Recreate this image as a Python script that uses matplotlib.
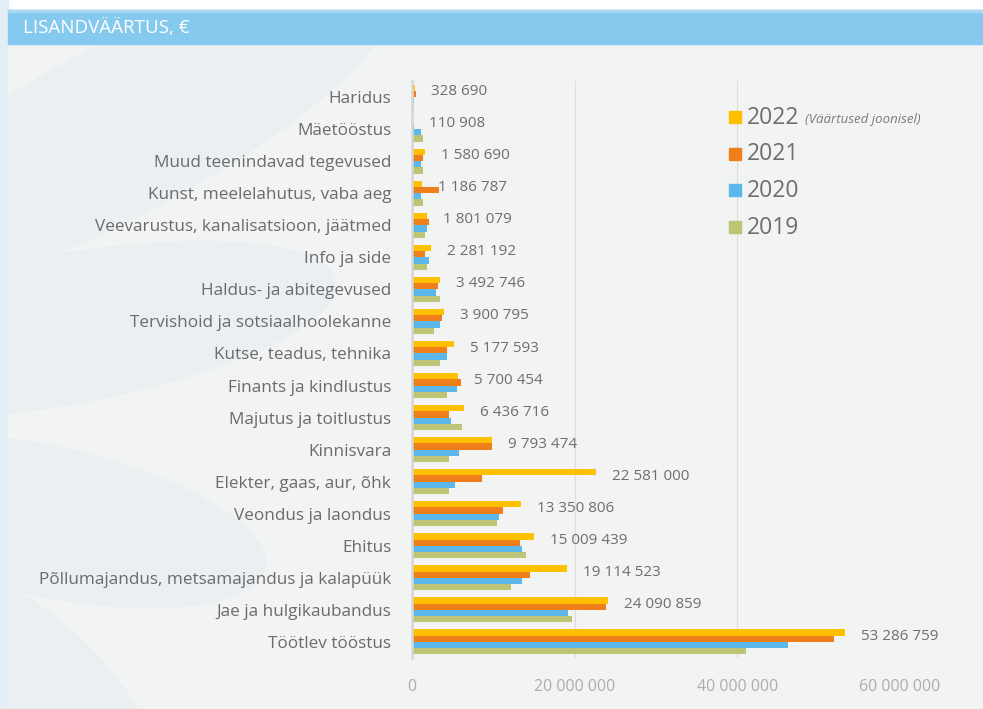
import matplotlib
matplotlib.use("Agg")
import matplotlib.pyplot as plt
import matplotlib.transforms as mtransforms
from matplotlib.patches import Rectangle, Ellipse
import numpy as np

plt.rcParams['font.family'] = ['Open Sans', 'DejaVu Sans']

# kategooriad ülevalt alla
categories = ["Haridus", "Mäetööstus", "Muud teenindavad tegevused",
              "Kunst, meelelahutus, vaba aeg",
              "Veevarustus, kanalisatsioon, jäätmed", "Info ja side",
              "Haldus- ja abitegevused", "Tervishoid ja sotsiaalhoolekanne",
              "Kutse, teadus, tehnika", "Finants ja kindlustus",
              "Majutus ja toitlustus", "Kinnisvara", "Elekter, gaas, aur, õhk",
              "Veondus ja laondus", "Ehitus",
              "Põllumajandus, metsamajandus ja kalapüük",
              "Jae ja hulgikaubandus", "Töötlev tööstus"]

v2022 = [328690, 110908, 1580690, 1186787, 1801079, 2281192, 3492746,
         3900795, 5177593, 5700454, 6436716, 9793474, 22581000, 13350806,
         15009439, 19114523, 24090859, 53286759]
v2021 = [550000, 200000, 1300000, 3370000, 2150000, 1650000, 3160000,
         3650000, 4270000, 5990000, 4500000, 9800000, 8600000, 11150000,
         13250000, 14500000, 23850000, 51930000]
v2020 = [300000, 1050000, 1050000, 1050000, 1800000, 2150000, 2900000,
         3400000, 4270000, 5500000, 4760000, 5750000, 5250000, 10670000,
         13500000, 13500000, 19150000, 46270000]
v2019 = [300000, 1300000, 1300000, 1300000, 1650000, 1800000, 3400000,
         2650000, 3400000, 4270000, 6200000, 4500000, 4500000, 10400000,
         14000000, 12150000, 19650000, 41090000]

years = ["2022", "2021", "2020", "2019"]
colors = ["#FFC000", "#EF7F1A", "#5CB8EA", "#BDC475"]
xticks = [0, 20000000, 40000000, 60000000]

W, H = 983, 709
fig = plt.figure(figsize=(W / 100, H / 100), dpi=100)
fig.patch.set_facecolor("white")
# pikslikoordinaadid (y ülevalt alla)
px = mtransforms.Affine2D().scale(1, -1).translate(0, H).scale(1 / W, 1 / H) + fig.transFigure

# taust ja dekoratsioon
fig.add_artist(Rectangle((0, 0), 8, H, transform=px, color="#E4EEF6", zorder=-10))
bg = Rectangle((8, 44), W - 8, H - 44, transform=px, color="#F2F3F3", zorder=-9)
fig.add_artist(bg)
for (cx, cy, w, h, a) in [(120, 130, 620, 170, -28), (60, 330, 560, 150, -10),
                          (40, 520, 460, 150, 12), (10, 690, 360, 170, 40)]:
    e = Ellipse((cx, cy), w, h, angle=a, transform=px, color="#EAEFF2", zorder=-8)
    fig.add_artist(e)
    e.set_clip_path(bg)

# päis
fig.add_artist(Rectangle((8, 10), W - 8, 34, transform=px, color="#86C9EE", zorder=-5))
fig.add_artist(Rectangle((8, 10), W - 8, 1.5, transform=px, color="#A8D8F3", zorder=-4))
fig.text(23 / W, 1 - 28 / H, "LISANDVÄÄRTUS, €", color="white", fontsize=13.5,
         fontweight="medium", va="center", ha="left")

ax = fig.add_axes([412 / W, 1 - 658 / H, (900 - 412) / W, (658 - 81) / H])
ax.set_facecolor("none")

n = len(categories)
y = np.arange(n)[::-1]
h = 0.195
series = [v2022, v2021, v2020, v2019]
offsets = [1.5 * h, 0.5 * h, -0.5 * h, -1.5 * h]
for vals, col, off in zip(series, colors, offsets):
    ax.barh(y + off, vals, height=h, color=col, zorder=3)

for yi, v in zip(y, v2022):
    ax.annotate(f"{v:,}".replace(",", " "), (v, yi + 0.17), xytext=(16, 0),
                textcoords="offset pixels", va="center", ha="left",
                fontsize=11, color="#6E6E6E", annotation_clip=False)

ax.set_xlim(0, 60000000)
ax.set_ylim(-0.5, n - 0.5)
ax.set_yticks(y)
ax.set_yticklabels(categories, fontsize=12.3, color="#6B6B6B")
ax.set_xticks(xticks)
ax.set_xticklabels([f"{t:,}".replace(",", " ") for t in xticks], fontsize=11.5,
                   color="#ADADAD")
ax.tick_params(axis="both", length=0)
ax.tick_params(axis="y", pad=15)
ax.tick_params(axis="x", pad=15)
ax.grid(axis="x", color="#DEDEDE", lw=0.9, zorder=0)
for s in ["top", "right", "bottom"]:
    ax.spines[s].set_visible(False)
ax.spines["left"].set_color("#D6D6D6")
ax.spines["left"].set_linewidth(1.8)
ax.spines["left"].set_zorder(4)

# legend
for i, (yr, col) in enumerate(zip(years, colors)):
    yc = 117 + i * 36.5
    fig.add_artist(Rectangle((729, yc - 6), 12, 12, transform=px, color=col))
    fig.text(747 / W, 1 - (yc + 1) / H, yr, fontsize=16.5, color="#6E6E6E",
             va="center", ha="left")
fig.text(805 / W, 1 - 120 / H, "(Väärtused joonisel)", fontsize=9.5,
         style="italic", color="#7A7A7A", va="center", ha="left")

fig.savefig("out.png", dpi=100)
